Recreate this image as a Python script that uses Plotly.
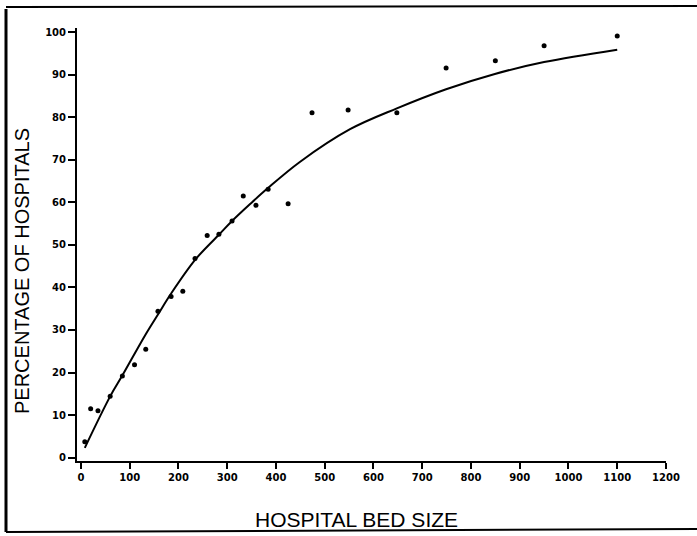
import plotly.graph_objects as go

# Observed data points (hospital bed size vs percentage of hospitals)
bed_size = [8, 20, 35, 60, 85, 110, 133, 158, 185, 209, 234, 259, 283, 310,
            333, 359, 384, 425, 474, 548, 648, 749, 850, 950, 1100]
pct_hosp = [3.7, 11.5, 11.0, 14.4, 19.2, 21.8, 25.5, 34.4, 37.9, 39.1, 46.8,
            52.2, 52.5, 55.6, 61.5, 59.3, 63.1, 59.7, 81.1, 81.7, 81.1, 91.6,
            93.3, 96.8, 99.1]

# Fitted curve
curve_x = [8, 60, 84, 133, 160, 184, 235, 284, 309, 347, 383, 449, 552, 648,
           749, 849, 950, 1100]
curve_y = [2.3, 14.4, 19.1, 29.0, 34.0, 38.4, 46.6, 52.5, 55.5, 59.6, 63.3,
           69.5, 77.2, 82.1, 86.6, 90.2, 93.0, 95.9]

x_ticks = list(range(0, 1201, 100))
y_ticks = list(range(0, 101, 10))

W, H = 697, 536
ML, MR, MT, MB = 77, 31, 28, 75
pw = W - ML - MR
ph = H - MT - MB


def px(xp):
    return (xp - ML) / pw


def py(yp):
    return (H - MB - yp) / ph


fig = go.Figure()
fig.add_trace(go.Scatter(
    x=curve_x, y=curve_y, mode="lines",
    line=dict(color="black", width=2, shape="spline", smoothing=1.0),
    hoverinfo="skip", showlegend=False))
fig.add_trace(go.Scatter(
    x=bed_size, y=pct_hosp, mode="markers",
    marker=dict(color="black", size=5),
    showlegend=False))

tickfont = dict(family="DejaVu Sans", size=10, color="black", weight="bold")

fig.update_layout(
    width=W, height=H,
    margin=dict(l=ML, r=MR, t=MT, b=MB, pad=0),
    paper_bgcolor="white", plot_bgcolor="white",
    xaxis=dict(range=[-8, 1200], tickvals=x_ticks, ticktext=[str(v) for v in x_ticks],
               showgrid=False, zeroline=False, showline=True, linecolor="black",
               linewidth=2, ticks="outside", ticklen=6, tickwidth=1.5,
               tickcolor="black", tickfont=tickfont),
    yaxis=dict(range=[-0.8, 101], tickvals=y_ticks, ticktext=[str(v) for v in y_ticks],
               showgrid=False, zeroline=False, showline=True, linecolor="black",
               linewidth=2, ticks="outside", ticklen=7, tickwidth=1.5,
               tickcolor="black", tickfont=tickfont),
    annotations=[
        dict(text="HOSPITAL BED SIZE", xref="paper", yref="paper",
             x=px(356), y=py(519), xanchor="center", yanchor="middle",
             showarrow=False,
             font=dict(family="Liberation Sans", size=21, color="black")),
        dict(text="PERCENTAGE OF HOSPITALS", xref="paper", yref="paper",
             x=px(22), y=py(271), xanchor="center", yanchor="middle",
             textangle=-90, showarrow=False,
             font=dict(family="Liberation Sans", size=20, color="black")),
    ],
    shapes=[
        dict(type="line", xref="paper", yref="paper",
             x0=px(6), x1=px(6), y0=py(9), y1=py(532),
             line=dict(color="black", width=3)),
        dict(type="line", xref="paper", yref="paper",
             x0=px(6), x1=px(697), y0=py(7), y1=py(6),
             line=dict(color="black", width=2)),
        dict(type="line", xref="paper", yref="paper",
             x0=px(6), x1=px(697), y0=py(532), y1=py(529),
             line=dict(color="black", width=2)),
    ],
)

fig.write_html("out.html",
               config={"displayModeBar": False},
               post_script="document.body.style.margin='0';"
                           "document.body.style.overflow='hidden';")
